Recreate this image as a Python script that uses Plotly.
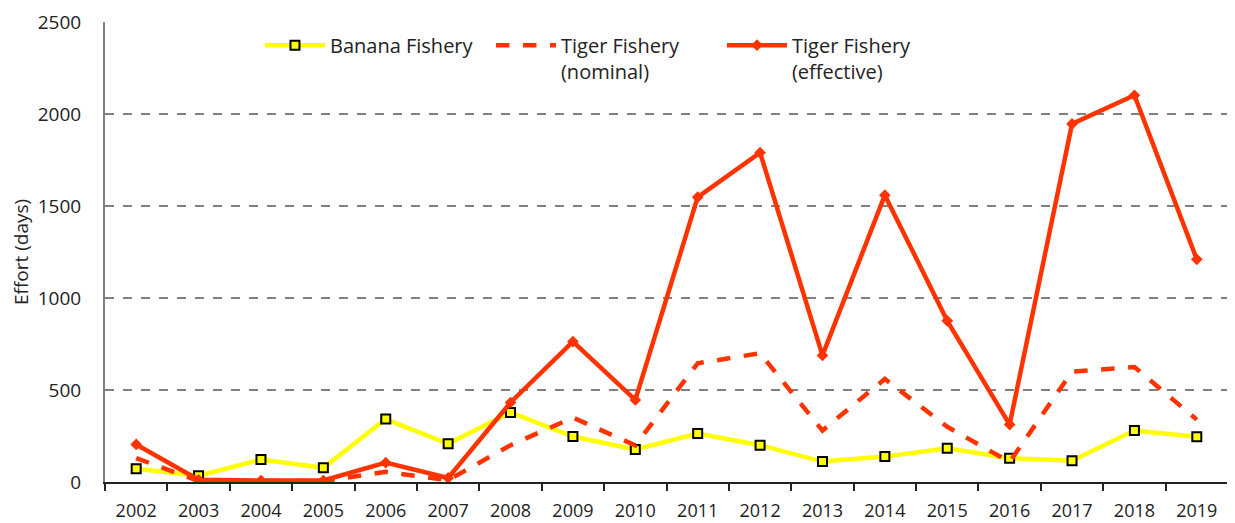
import plotly.graph_objects as go

years = [str(y) for y in range(2002, 2020)]
banana = [72, 34, 122, 77, 342, 208, 378, 247, 177, 263, 200, 111, 138, 183, 129, 115, 280, 246]
tiger_nominal = [130, 5, 5, 5, 55, 10, 200, 350, 199, 645, 700, 280, 560, 300, 109, 600, 625, 339]
tiger_effective = [204, 12, 8, 8, 105, 22, 432, 763, 446, 1548, 1790, 688, 1559, 876, 312, 1946, 2102, 1210]

red = "#FF3300"
fig = go.Figure()
fig.add_trace(go.Scatter(
    x=years, y=banana, name="Banana Fishery", mode="lines+markers",
    line=dict(color="#FFFF00", width=4.5),
    marker=dict(symbol="square", size=9, color="#FFFF00", line=dict(color="#000000", width=2))))
fig.add_trace(go.Scatter(
    x=years, y=tiger_nominal, name="Tiger Fishery<br>(nominal)", mode="lines",
    line=dict(color=red, width=4.5, dash="dash")))
fig.add_trace(go.Scatter(
    x=years, y=tiger_effective, name="Tiger Fishery<br>(effective)", mode="lines+markers",
    line=dict(color=red, width=4.5),
    marker=dict(symbol="diamond", size=9, color=red)))

# page body adds ~8px offset, margins compensate
fig.update_layout(
    width=1235, height=523,
    margin=dict(l=97, r=15, t=14, b=49),
    plot_bgcolor="white", paper_bgcolor="white",
    font=dict(family="Open Sans", size=17, color="#222222"),
    showlegend=True,
    legend=dict(orientation="h", x=0.138, y=0.992, xanchor="left", yanchor="top",
                bgcolor="rgba(255,255,255,0)", font=dict(size=20), valign="top",
                itemwidth=60, traceorder="normal", entrywidth=156),
)
fig.update_xaxes(
    type="category", range=[-0.5, 17.5], tickson="boundaries", ticks="outside",
    ticklen=7, tickwidth=2, tickcolor="#222222", showline=True, linecolor="#222222",
    linewidth=2, showgrid=False, tickfont=dict(size=18), automargin=False,
    ticklabelstandoff=11)
fig.update_yaxes(
    range=[0, 2500], dtick=500, showgrid=True, gridcolor="#808080", griddash="dash",
    gridwidth=1.5, showline=True, linecolor="#808080", linewidth=2, zeroline=False,
    ticks="", ticklabelstandoff=18, ticklabeloverflow="allow", automargin=False,
    title=dict(text="Effort (days)", standoff=6, font=dict(size=19)),
    tickfont=dict(size=19))

fig.write_html("out.html")
